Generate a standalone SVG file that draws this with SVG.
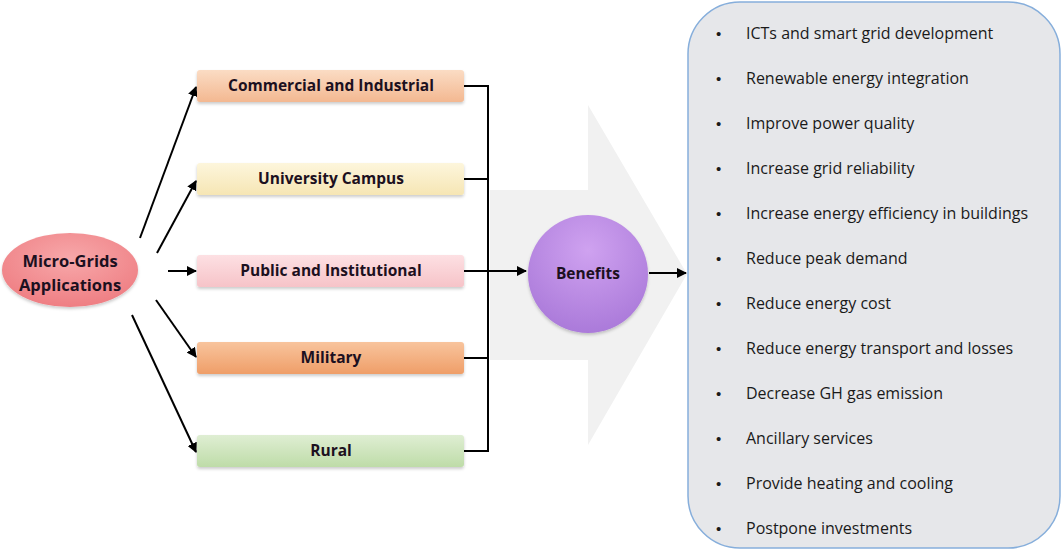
<svg xmlns="http://www.w3.org/2000/svg" width="1063" height="552" viewBox="0 0 1063 552">
<defs>
<style>
.lbl{font-family:"Open Sans","Liberation Sans",sans-serif;font-weight:bold;font-size:15.5px;fill:#1c1020;text-anchor:middle}
.big{font-size:16.5px}
.item{font-family:"Open Sans","Liberation Sans",sans-serif;font-size:16px;fill:#1a1a1a}
.bul{font-family:"Liberation Sans",sans-serif;font-size:15px;fill:#1a1a1a}
.conn{stroke:#000;stroke-width:2;fill:none}
</style>
<linearGradient id="gC" x1="0" y1="0" x2="0" y2="1"><stop offset="0" stop-color="#fbdcc4"/><stop offset="1" stop-color="#f3b891"/></linearGradient>
<linearGradient id="gU" x1="0" y1="0" x2="0" y2="1"><stop offset="0" stop-color="#fdf6dc"/><stop offset="1" stop-color="#f6e6b4"/></linearGradient>
<linearGradient id="gP" x1="0" y1="0" x2="0" y2="1"><stop offset="0" stop-color="#fde0e3"/><stop offset="1" stop-color="#f6c3c8"/></linearGradient>
<linearGradient id="gM" x1="0" y1="0" x2="0" y2="1"><stop offset="0" stop-color="#f8c49d"/><stop offset="1" stop-color="#ef9e68"/></linearGradient>
<linearGradient id="gR" x1="0" y1="0" x2="0" y2="1"><stop offset="0" stop-color="#dfeed3"/><stop offset="1" stop-color="#bedca8"/></linearGradient>
<radialGradient id="gE" cx="0.5" cy="0.35" r="0.7"><stop offset="0" stop-color="#f7a8aa"/><stop offset="1" stop-color="#ee7b80"/></radialGradient>
<radialGradient id="gB" cx="0.5" cy="0.3" r="0.75"><stop offset="0" stop-color="#cfa2f0"/><stop offset="1" stop-color="#a877d8"/></radialGradient>
<filter id="sh" x="-10%" y="-20%" width="120%" height="150%"><feDropShadow dx="0" dy="2" stdDeviation="1.5" flood-color="#000" flood-opacity="0.2"/></filter>
<marker id="ah" viewBox="0 0 10 10" refX="9" refY="5" markerWidth="5" markerHeight="5" orient="auto"><path d="M0,0 L10,5 L0,10 z" fill="#000"/></marker>
</defs>
<rect width="1063" height="552" fill="#fff"/>
<polygon id="bigArrow" points="490,190 588,190 588,105 687,274 588,445 588,360 490,360" fill="#f1f1f1"/>
<g id="benefitsList">
<rect x="688" y="2" width="372" height="546" rx="52" ry="52" fill="#e6e7ea" stroke="#86aedb" stroke-width="1.5"/>
<g class="bul">
<text x="716" y="39">•</text><text x="716" y="84">•</text><text x="716" y="129">•</text><text x="716" y="174">•</text><text x="716" y="219">•</text><text x="716" y="264">•</text><text x="716" y="309">•</text><text x="716" y="354">•</text><text x="716" y="399">•</text><text x="716" y="444">•</text><text x="716" y="489">•</text><text x="716" y="534">•</text>
</g>
<g class="item">
<text x="746" y="39">ICTs and smart grid development</text>
<text x="746" y="84">Renewable energy integration</text>
<text x="746" y="129">Improve power quality</text>
<text x="746" y="174">Increase grid reliability</text>
<text x="746" y="219">Increase energy efficiency in buildings</text>
<text x="746" y="264">Reduce peak demand</text>
<text x="746" y="309">Reduce energy cost</text>
<text x="746" y="354">Reduce energy transport and losses</text>
<text x="746" y="399">Decrease GH gas emission</text>
<text x="746" y="444">Ancillary services</text>
<text x="746" y="489">Provide heating and cooling</text>
<text x="746" y="534">Postpone investments</text>
</g>
</g>
<g id="connectors">
<line class="conn" x1="140" y1="238" x2="196" y2="87" marker-end="url(#ah)"/>
<line class="conn" x1="157" y1="253" x2="196" y2="181" marker-end="url(#ah)"/>
<line class="conn" x1="168" y1="271" x2="196" y2="271" marker-end="url(#ah)"/>
<line class="conn" x1="156" y1="300" x2="196" y2="357" marker-end="url(#ah)"/>
<line class="conn" x1="132" y1="315" x2="196" y2="452" marker-end="url(#ah)"/>
<polyline class="conn" points="464,86 488,86 488,451 464,451"/>
<line class="conn" x1="464" y1="179" x2="488" y2="179"/>
<line class="conn" x1="464" y1="358" x2="488" y2="358"/>
<line class="conn" x1="464" y1="271" x2="526" y2="271" marker-end="url(#ah)"/>
<line class="conn" x1="649" y1="273" x2="686" y2="273" marker-end="url(#ah)"/>
</g>
<g id="microgrids">
<ellipse cx="70" cy="270" rx="68" ry="37" fill="url(#gE)" filter="url(#sh)"/>
<text class="lbl big" x="70" y="267">Micro-Grids</text>
<text class="lbl big" x="70" y="291">Applications</text>
</g>
<g id="commercial">
<rect x="197" y="70" width="267" height="32" rx="3" fill="url(#gC)" filter="url(#sh)"/>
<text class="lbl" x="331" y="91">Commercial and Industrial</text>
</g>
<g id="university">
<rect x="197" y="163" width="267" height="32" rx="3" fill="url(#gU)" filter="url(#sh)"/>
<text class="lbl" x="331" y="184">University Campus</text>
</g>
<g id="public">
<rect x="197" y="255" width="267" height="32" rx="3" fill="url(#gP)" filter="url(#sh)"/>
<text class="lbl" x="331" y="276">Public and Institutional</text>
</g>
<g id="military">
<rect x="197" y="342" width="267" height="32" rx="3" fill="url(#gM)" filter="url(#sh)"/>
<text class="lbl" x="331" y="363">Military</text>
</g>
<g id="rural">
<rect x="197" y="435" width="267" height="32" rx="3" fill="url(#gR)" filter="url(#sh)"/>
<text class="lbl" x="331" y="456">Rural</text>
</g>
<g id="benefits">
<ellipse cx="588" cy="274" rx="60" ry="59" fill="url(#gB)" filter="url(#sh)"/>
<text class="lbl" x="588" y="279">Benefits</text>
</g>
</svg>
